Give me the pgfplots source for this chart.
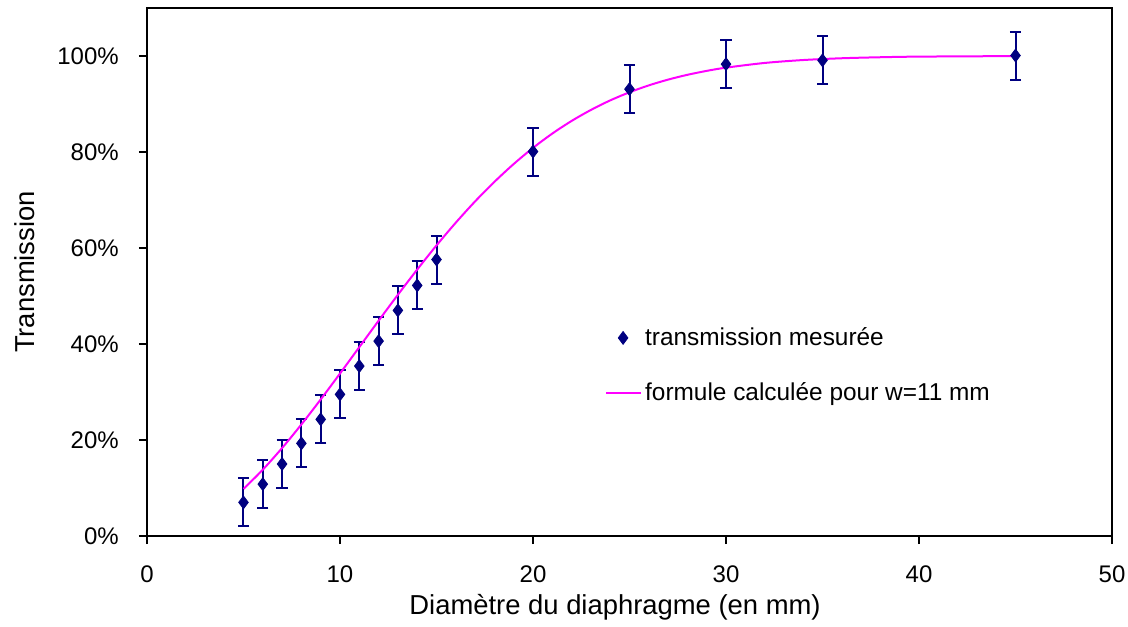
\documentclass[border=0pt]{standalone}
\usepackage{fontspec}
\setmainfont{Liberation Sans}
\usepackage{pgfplots}
\pgfplotsset{compat=1.18}
\usepackage{pgfplotstable}
\definecolor{navy}{RGB}{0,0,128}
\definecolor{magentaL}{RGB}{255,0,255}
\pgfplotstableread{
x y e
5 7.0 5
6 10.8 5
7 15.0 5
8 19.3 5
9 24.3 5
10 29.5 5
11 35.4 5
12 40.6 5
13 47.0 5
14 52.2 5
15 57.6 5
20 80.1 5
25 93.1 5
30 98.3 5
35 99.1 5
45 100.1 5
}\measured
\pgfplotstableread{
x y
5 9.81
6 13.82
7 18.33
8 23.24
9 28.45
10 33.85
11 39.35
12 44.85
13 50.26
14 55.51
15 60.54
16 65.28
17 69.71
18 73.78
19 77.50
20 80.85
21 83.84
22 86.47
23 88.76
24 90.75
25 92.44
26 93.88
27 95.08
28 96.08
29 96.90
30 97.57
32 98.55
34 99.16
36 99.53
38 99.74
40 99.87
45 99.98
}\formula
\begin{document}
\begin{tikzpicture}
\begin{axis}[
  scale only axis,
  width=482.5pt, height=264pt,
  xmin=0, xmax=50, ymin=0, ymax=110,
  xtick={0,10,20,30,40,50},
  ytick={0,20,40,60,80,100},
  yticklabel={\pgfmathprintnumber{\tick}\%},
  /pgf/number format/assume math mode=true,
  tick align=outside,
  major tick length=4pt,
  xtick pos=bottom, ytick pos=left,
  axis line style={line width=0.6pt},
  every tick/.style={black, line width=0.6pt},
  tick label style={font=\fontsize{12}{14}\selectfont},
  xticklabel style={yshift=-7.2pt},
  yticklabel style={xshift=-6.6pt},
  xlabel={Diamètre du diaphragme (en mm)},
  ylabel={Transmission},
  label style={font=\fontsize{13.7}{16}\selectfont},
  xlabel style={at={(rel axis cs:0.485,-0.1345)}, anchor=center},
  ylabel style={at={(rel axis cs:-0.1264,0.5)}, anchor=center},
  legend style={at={(axis cs:23.4,45.2)}, anchor=north west, draw=none, fill=none,
    font=\fontsize{12.2}{14}\selectfont, row sep=13pt},
  legend cell align=left,
]
\addplot[navy, only marks, mark=diamond*, mark size=3.2pt,
  error bars/.cd, y dir=both, y explicit,
  error bar style={line width=1pt, navy},
  error mark options={rotate=90, mark size=2.8pt, line width=1pt, navy}]
  table[x=x, y=y, y error=e] {\measured};
\addlegendentry{transmission mesurée}
\addplot[magentaL, line width=1pt, smooth, no marks] table[x=x, y=y] {\formula};
\addlegendentry{formule calculée pour w=11 mm}
\end{axis}
\pgfresetboundingbox
\path (current axis.south west) ++(-73.5pt,-45pt) coordinate (bbsw);
\path (current axis.north east) ++(8pt,4pt) coordinate (bbne);
\useasboundingbox (bbsw) rectangle (bbne);
\end{tikzpicture}
\end{document}
